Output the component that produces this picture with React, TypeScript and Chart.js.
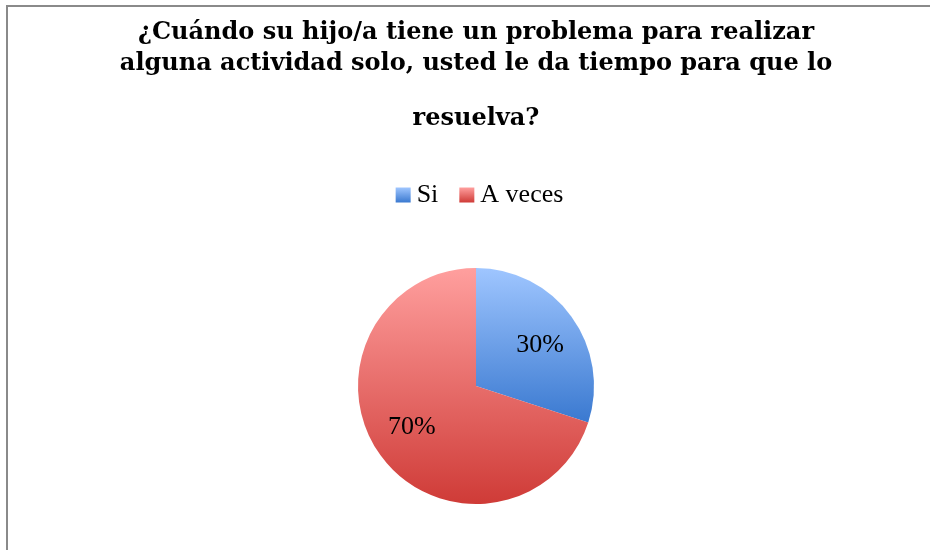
import React, { useEffect, useRef } from "react";
import { Chart, registerables } from "chart.js";

Chart.register(...registerables);

const categories = ["Si", "A veces"];
const values = [30, 70];
const titleLines = [
  "¿Cuándo su hijo/a tiene un problema para realizar",
  "alguna actividad solo, usted le da tiempo para que lo",
];
const subtitleLine = "resuelva?";
const gradientTop = ["#9fc6ff", "#ff9f9e"];
const gradientBottom = ["#3a79d0", "#cf3b37"];

const TWO_PI = Math.PI * 2;
const LEGEND_FONT = 26;
const LEGEND_BOX = 15;
const LEGEND_BOX_SHIFT = 7;
const LABEL_DIST = 0.645;
const LABEL_ANGLE_SHIFT = (3.5 * Math.PI) / 180;

function containsAngle(a: number, s: number, e: number) {
  let x = a;
  while (x < s) x += TWO_PI;
  while (x > e + 1e-9) x -= TWO_PI;
  return x >= s - 1e-9 && x <= e + 1e-9;
}

function sliceYRange(index: number, cy: number, r: number) {
  const total = values.reduce((a, b) => a + b, 0);
  let start = -Math.PI / 2;
  for (let i = 0; i < index; i++) start += (values[i] / total) * TWO_PI;
  const end = start + (values[index] / total) * TWO_PI;
  const ys = [cy, cy + r * Math.sin(start), cy + r * Math.sin(end)];
  if (containsAngle(-Math.PI / 2, start, end)) ys.push(cy - r);
  if (containsAngle(Math.PI / 2, start, end)) ys.push(cy + r);
  return [Math.min(...ys), Math.max(...ys)];
}

function sliceColor(ctx: any) {
  const chart = ctx.chart;
  const i = ctx.dataIndex ?? 0;
  const area = chart.chartArea;
  const meta = chart.getDatasetMeta(0);
  const ctrl: any = meta && meta.controller;
  if (!area || !ctrl || !ctrl.outerRadius) return gradientTop[i];
  const cy = (area.top + area.bottom) / 2 + (ctrl.offsetY || 0);
  const r = ctrl.outerRadius;
  const [y0, y1] = sliceYRange(i, cy, r);
  const g = chart.ctx.createLinearGradient(0, y0, 0, y1);
  g.addColorStop(0, gradientTop[i]);
  g.addColorStop(1, gradientBottom[i]);
  return g;
}

const labelPlugin = {
  id: "sliceLabels",
  afterDatasetsDraw(chart: any) {
    const ctx = chart.ctx;
    const meta = chart.getDatasetMeta(0);
    const total = values.reduce((a, b) => a + b, 0);
    ctx.save();
    ctx.font = '26px "Liberation Serif"';
    ctx.fillStyle = "#000000";
    ctx.textAlign = "center";
    ctx.textBaseline = "middle";
    meta.data.forEach((el: any, i: number) => {
      const p = el.getProps(["x", "y", "startAngle", "endAngle", "outerRadius"], true);
      const mid = (p.startAngle + p.endAngle) / 2 + LABEL_ANGLE_SHIFT;
      const d = p.outerRadius * LABEL_DIST;
      const txt = Math.round((values[i] / total) * 100) + "%";
      ctx.fillText(txt, p.x + Math.cos(mid) * d, p.y + Math.sin(mid) * d);
    });
    ctx.restore();
  },
};

const legendPlugin = {
  id: "legendGradientBoxes",
  beforeInit(chart: any) {
    const legend = chart.legend;
    if (!legend) return;
    const origFit = legend.fit;
    legend.fit = function () {
      origFit.call(this);
      this.height += 10;
    };
  },
  afterDraw(chart: any) {
    const legend = chart.legend;
    if (!legend || !legend.legendHitBoxes) return;
    const ctx = chart.ctx;
    legend.legendHitBoxes.forEach((hb: any, i: number) => {
      const y = hb.top + Math.max((LEGEND_FONT - LEGEND_BOX) / 2, 0);
      const x = hb.left + LEGEND_BOX_SHIFT;
      const g = ctx.createLinearGradient(0, y, 0, y + LEGEND_BOX);
      g.addColorStop(0, gradientTop[i]);
      g.addColorStop(1, gradientBottom[i]);
      ctx.save();
      ctx.fillStyle = g;
      ctx.fillRect(x, y, LEGEND_BOX, LEGEND_BOX);
      ctx.restore();
    });
  },
};

export default function App() {
  const ref = useRef<HTMLCanvasElement | null>(null);
  useEffect(() => {
    if (!ref.current) return;
    const chart = new Chart(ref.current, {
      type: "pie",
      data: {
        labels: categories,
        datasets: [
          {
            data: values,
            backgroundColor: sliceColor as any,
            borderWidth: 0,
            radius: 118,
          } as any,
        ],
      },
      options: {
        responsive: false,
        animation: false,
        layout: { padding: { left: 22, right: 0, top: 0, bottom: 6 } },
        plugins: {
          title: {
            display: true,
            text: titleLines,
            color: "#000000",
            font: { family: '"DejaVu Serif"', size: 24, weight: "bold", lineHeight: "31px" },
            padding: { top: 17, bottom: 0 },
          },
          subtitle: {
            display: true,
            text: subtitleLine,
            color: "#000000",
            font: { family: '"DejaVu Serif"', size: 24, weight: "bold", lineHeight: "31px" },
            padding: { top: 24, bottom: 34 },
          },
          legend: {
            display: true,
            position: "top",
            labels: {
              color: "#000000",
              font: { family: '"Liberation Serif"', size: LEGEND_FONT },
              boxWidth: LEGEND_BOX,
              boxHeight: LEGEND_BOX,
              padding: 14,
              generateLabels(chart: any) {
                const base = (Chart as any).overrides.pie.plugins.legend.labels.generateLabels(chart);
                return base.map((item: any) => ({
                  ...item,
                  fillStyle: "rgba(0,0,0,0)",
                  strokeStyle: "rgba(0,0,0,0)",
                  lineWidth: 0,
                }));
              },
            },
          },
          tooltip: { enabled: false },
        },
      },
      plugins: [labelPlugin, legendPlugin],
    });
    return () => chart.destroy();
  }, []);

  return (
    <div style={{ position: "fixed", left: 0, top: 0, width: 930, height: 550, overflow: "hidden", background: "#ffffff" }}>
      <div
        style={{
          position: "absolute",
          left: 6,
          top: 5,
          width: 1000,
          height: 1000,
          borderLeft: "2px solid #8a8a8a",
          borderTop: "2px solid #8a8a8a",
        }}
      />
      <canvas ref={ref} width={930} height={550} style={{ position: "absolute", left: 0, top: 0 }} />
    </div>
  );
}
